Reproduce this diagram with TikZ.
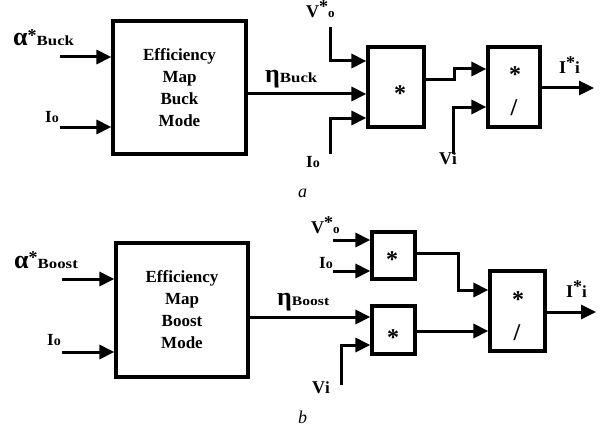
\documentclass[tikz,border=0pt]{standalone}
\usepackage{fontspec}
\setmainfont{Liberation Serif}
\newfontfamily\widefont[FakeStretch=1.2]{Liberation Serif}
\usetikzlibrary{arrows.meta}
\newcommand{\fsz}[1]{\fontsize{#1}{#1}\selectfont}
\begin{document}
\begin{tikzpicture}[x=1pt,y=-1pt,
  conn/.style={line width=3pt},
  arr/.style={conn,-{Triangle[length=15pt,width=14pt]}},
  blk/.style={draw,line width=3.2pt,inner sep=0pt},
  bigtxt/.style={font=\bfseries\fontsize{17}{22}\selectfont,align=center},
  lbl/.style={anchor=base west,inner sep=0pt,font=\bfseries},
  op/.style={anchor=base,inner sep=0pt,font=\bfseries\fsz{24}}]
\useasboundingbox (0,0) rectangle (600,428);

% ---------------- part a ----------------
\node[blk,minimum width=133pt,minimum height=133pt,bigtxt] (effA) at (179.5,87.5)
  {Efficiency\\Map\\Buck\\Mode};
\node[blk,minimum width=56pt,minimum height=80pt] (mulA) at (396,87) {};
\node[blk,minimum width=52pt,minimum height=80pt] (divA) at (514,87) {};
\node[op] (mulAs) at (400,102) {*};
\node[op] (divAs) at (515,82) {*};
\node[op] (divAd) at (514,115) {/};

\coordinate (alphaA) at (60,57);
\coordinate (ioA) at (60,127);
\coordinate (voA) at (330,27);
\coordinate (ioA2) at (330,154);
\coordinate (viA) at (453,154);
\coordinate (outA) at (594,88);

\draw[arr] (alphaA) -- (effA.west |- alphaA);
\draw[arr] (ioA) -- (effA.west |- ioA);
\draw[arr] (effA.east |- 0,94) -- (mulA.west |- 0,94);
\draw[arr] (voA) |- (mulA.west |- 0,61);
\draw[arr] (ioA2) |- (mulA.west |- 0,118);
\draw[arr] (mulA.east |- 0,80) -- (454,80) |- (divA.west |- 0,69);
\draw[arr] (viA) |- (divA.west |- 0,107);
\draw[arr] (divA.east |- outA) -- (outA);

\node[lbl] (lalA) at (13,46) {{\fsz{26}α}\raisebox{5pt}{\fsz{18}*}{\widefont\fsz{14}Buck}};
\node[lbl] (lioA) at (45,122) {{\fsz{17}I}{\fsz{14}o}};
\node[lbl] (letaA) at (265,83) {{\fsz{26}η}{\widefont\fsz{14}Buck}};
\node[lbl] (lvoA) at (306,18) {{\fsz{18}V}\raisebox{5pt}{\fsz{18}*}{\fsz{13}o}};
\node[lbl] (lioA2) at (306,167) {{\fsz{17}I}{\fsz{14}o}};
\node[lbl] (lviA) at (439,164) {{\fsz{18}V}{\fsz{17}i}};
\node[lbl] (liA) at (559,74) {{\fsz{18}I}\raisebox{5pt}{\fsz{18}*}{\fsz{17}i}};
\node[lbl,font=\itshape\fsz{18}] (capA) at (298,197) {a};

% ---------------- part b ----------------
\node[blk,minimum width=132pt,minimum height=134pt,bigtxt] (effB) at (182,310)
  {Efficiency\\Map\\Boost\\Mode};
\node[blk,minimum width=43pt,minimum height=47pt] (mulB1) at (393.5,255.5) {};
\node[blk,minimum width=43pt,minimum height=48pt] (mulB2) at (393.5,330) {};
\node[blk,minimum width=55pt,minimum height=80pt] (divB) at (517.5,311) {};
\node[op] (mulB1s) at (392,267) {*};
\node[op] (mulB2s) at (393,345) {*};
\node[op] (divBs) at (518,307) {*};
\node[op] (divBd) at (517,340) {/};

\coordinate (alphaB) at (62,279);
\coordinate (ioB) at (62,352);
\coordinate (voB) at (333,240);
\coordinate (ioB2) at (333,271);
\coordinate (viB) at (341,385);
\coordinate (outB) at (596,312);

\draw[arr] (alphaB) -- (effB.west |- alphaB);
\draw[arr] (ioB) -- (effB.west |- ioB);
\draw[arr] (effB.east |- 0,317) -- (mulB2.west |- 0,317);
\draw[arr] (voB) -- (mulB1.west |- voB);
\draw[arr] (ioB2) -- (mulB1.west |- ioB2);
\draw[arr] (viB) |- (mulB2.west |- 0,345);
\draw[arr] (mulB1.east |- 0,253) -- (458,253) |- (divB.west |- 0,290);
\draw[arr] (mulB2.east |- 0,331) -- (divB.west |- 0,331);
\draw[arr] (divB.east |- outB) -- (outB);

\node[lbl] (lalB) at (14,268) {{\fsz{26}α}\raisebox{5pt}{\fsz{18}*}{\widefont\fsz{14}Boost}};
\node[lbl] (lioB) at (47,345) {{\fsz{17}I}{\fsz{14}o}};
\node[lbl] (letaB) at (277,305) {{\fsz{26}η}{\widefont\fsz{13}Boost}};
\node[lbl] (lvoB) at (311,233) {{\fsz{18}V}\raisebox{5pt}{\fsz{18}*}{\fsz{13}o}};
\node[lbl] (lioB2) at (319,268) {{\fsz{17}I}{\fsz{14}o}};
\node[lbl] (lviB) at (312,393) {{\fsz{18}V}{\fsz{17}i}};
\node[lbl] (liB) at (566,297) {{\fsz{18}I}\raisebox{5pt}{\fsz{18}*}{\fsz{17}i}};
\node[lbl,font=\itshape\fsz{18}] (capB) at (298,423) {b};
\end{tikzpicture}
\end{document}
